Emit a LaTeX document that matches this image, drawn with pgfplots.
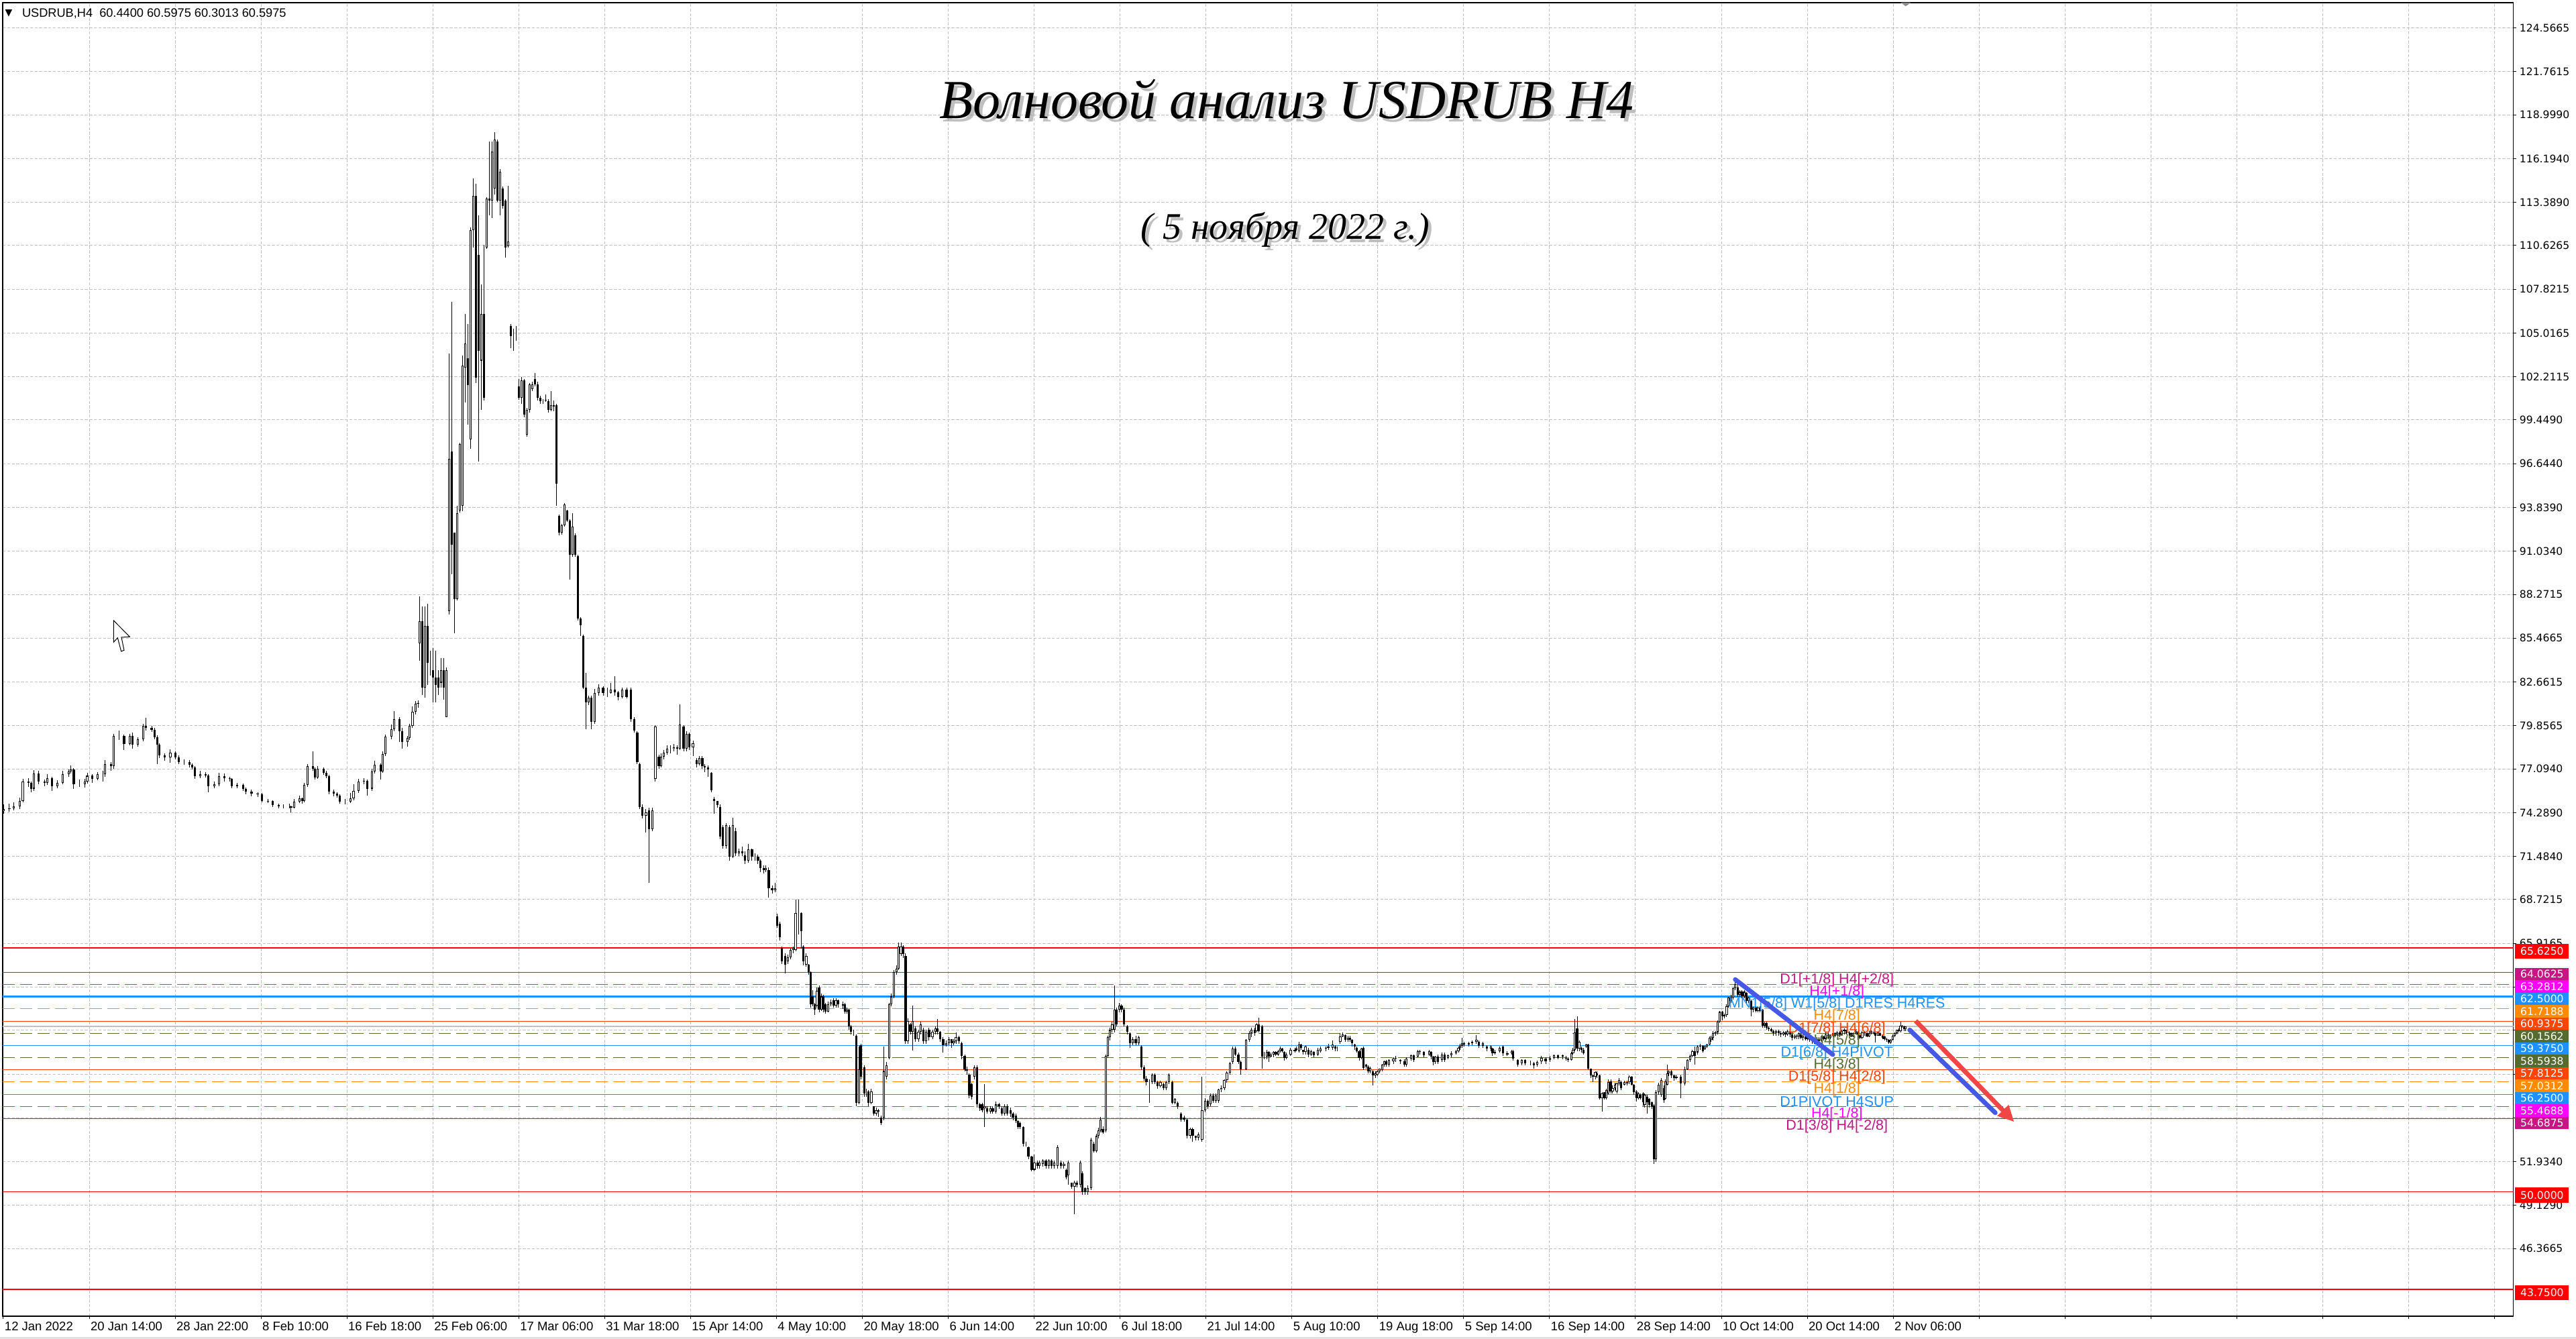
\documentclass[border=0pt]{standalone}
\usepackage{fontspec}
\usepackage{pgfplots}
\usepackage{pgfplotstable}
\pgfplotsset{compat=1.18}
\usetikzlibrary{arrows.meta}
\setmainfont{Liberation Sans}
\newfontfamily\tickfont{DejaVu Sans}
\newfontfamily\titlefont{Liberation Serif}
\definecolor{mmred}{HTML}{FF0000}
\definecolor{mmviolet}{HTML}{C71585}
\definecolor{mmmagenta}{HTML}{FF00FF}
\definecolor{mmblue}{HTML}{1E90FF}
\definecolor{mmorange}{HTML}{FF8C00}
\definecolor{mmorred}{HTML}{FF4500}
\definecolor{mmolive}{HTML}{556B2F}
\definecolor{gridgray}{HTML}{C0C0C0}
\definecolor{arrowblue}{HTML}{4558E6}
\definecolor{arrowred}{HTML}{F24646}
\pgfplotstableread{
x o h l c
2.4 74.40 74.80 74.20 74.50
5.7 74.50 74.85 74.35 74.55
8.4 74.55 74.95 74.45 74.70
12.0 74.70 75.25 74.50 75.05
13.9 75.05 76.45 74.95 76.27
17.5 76.27 76.50 75.95 76.19
19.0 76.19 76.30 75.60 75.83
20.6 75.83 77.00 75.70 76.79
23.5 76.79 76.95 76.10 76.27
27.0 76.27 76.40 76.00 76.19
28.8 76.19 76.75 76.05 76.51
31.7 76.51 76.60 75.70 75.98
34.9 75.98 76.35 75.85 76.19
38.1 76.19 76.95 76.10 76.76
41.8 76.76 77.05 76.60 76.91
43.2 76.91 77.30 76.80 77.05
44.9 77.05 77.15 75.80 76.12
48.5 76.12 76.40 75.95 76.12
51.8 76.12 76.45 75.90 76.27
53.1 76.27 76.85 76.15 76.65
56.2 76.65 76.75 76.20 76.45
59.5 76.45 76.90 76.35 76.76
62.8 76.76 76.95 76.30 76.76
64.0 76.76 77.65 76.60 77.41
67.7 77.41 77.55 76.95 77.27
69.2 77.27 79.35 77.10 79.20
72.3 79.20 79.55 78.95 79.20
75.5 79.20 79.30 78.30 78.70
79.0 78.70 79.35 78.60 79.20
80.5 79.20 79.40 78.40 78.63
83.8 78.63 79.10 78.50 78.98
87.3 78.98 80.00 78.85 79.84
88.7 79.84 80.37 79.55 79.70
92.3 79.70 79.85 79.45 79.60
94.2 79.60 79.70 79.00 79.13
95.6 79.13 79.25 77.40 78.63
96.9 78.63 78.75 77.80 77.98
100.2 77.98 78.10 77.60 77.84
103.7 77.84 78.35 77.50 78.12
106.9 78.12 78.20 77.70 77.84
108.8 77.84 77.95 77.40 77.55
112.0 77.55 77.70 77.35 77.55
115.2 77.55 77.65 77.20 77.34
117.0 77.34 77.45 77.05 77.17
118.5 77.17 77.25 76.45 76.62
121.9 76.62 76.95 76.50 76.76
125.2 76.76 76.90 76.55 76.69
126.7 76.69 76.75 75.60 75.98
130.3 75.98 76.30 75.85 76.12
133.4 76.12 76.85 76.00 76.62
136.7 76.62 76.80 76.30 76.48
139.8 76.48 76.60 76.30 76.45
141.2 76.45 76.50 75.85 75.98
144.4 75.98 76.20 75.85 76.05
148.0 76.05 76.15 75.70 75.83
149.5 75.83 75.90 75.45 75.62
153.1 75.62 75.75 75.35 75.50
156.8 75.50 75.60 75.30 75.48
159.5 75.48 75.55 74.95 75.05
163.2 75.05 75.15 74.90 75.02
165.9 75.02 75.10 74.65 74.76
169.6 74.76 74.85 74.55 74.69
172.6 74.69 74.80 74.55 74.69
176.0 74.69 74.85 74.55 74.69
177.2 74.69 74.75 74.30 74.62
179.0 74.62 75.15 74.55 74.98
182.3 74.98 75.40 74.90 75.19
184.1 75.19 75.25 74.85 75.02
185.3 75.02 76.20 74.95 76.05
187.2 76.05 77.40 75.95 77.27
190.4 77.27 78.20 76.95 77.12
191.7 77.12 77.20 76.40 76.55
193.2 76.55 77.25 76.45 77.09
196.9 77.09 77.20 76.70 76.84
198.7 76.84 76.95 76.50 76.62
200.3 76.62 76.70 75.45 75.62
203.3 75.62 75.75 75.35 75.50
205.1 75.50 75.60 75.25 75.40
206.9 75.40 75.45 74.85 74.98
210.0 74.98 75.15 74.80 74.98
213.3 74.98 75.55 74.90 75.19
215.2 75.19 76.10 75.10 75.69
218.3 75.69 76.45 75.55 76.27
221.6 76.27 76.50 76.10 76.34
223.4 76.34 76.40 75.40 75.83
226.5 75.83 77.10 75.70 76.91
228.0 76.91 77.60 76.80 77.34
231.6 77.34 77.45 76.40 76.94
232.9 76.94 78.20 76.85 78.05
234.7 78.05 79.30 77.90 79.15
238.1 79.15 79.95 79.00 79.63
239.9 79.63 80.80 79.50 80.27
243.0 80.27 80.40 78.80 79.50
244.8 79.50 79.70 78.40 78.80
248.0 78.80 79.20 78.50 79.06
249.3 79.06 80.00 78.95 79.84
251.1 79.84 81.10 79.70 80.77
252.9 80.77 81.45 80.60 81.27
254.4 81.27 81.50 81.00 81.30
255.4 85.14 88.13 84.03 86.55
257.0 86.55 87.50 81.83 82.30
258.6 82.30 87.50 81.67 86.24
260.2 86.24 87.66 82.46 83.88
261.8 83.88 84.66 83.09 83.88
263.5 83.40 84.82 81.36 82.93
265.1 82.93 84.66 81.36 82.46
266.7 82.93 83.40 81.83 82.30
268.4 82.62 84.19 82.30 83.40
270.0 83.40 84.19 81.51 82.30
271.8 80.41 83.60 80.41 83.40
273.3 87.19 103.72 87.00 96.95
274.9 97.42 107.03 89.55 91.44
276.5 92.22 92.22 85.77 87.97
278.2 87.97 93.95 87.90 93.48
279.8 93.64 98.00 93.50 97.89
281.4 93.95 103.56 93.60 102.94
283.1 102.78 106.24 100.57 104.35
284.7 103.41 105.61 99.15 101.67
286.3 98.21 111.80 97.60 111.60
288.0 111.60 114.90 110.49 113.80
289.6 113.80 114.59 101.83 102.15
291.2 110.02 112.54 96.79 103.88
292.9 103.25 108.13 100.10 106.24
294.5 106.24 110.65 100.70 100.88
296.1 110.49 113.70 110.40 113.64
297.8 113.64 117.27 112.54 113.49
299.4 113.49 117.27 112.38 116.64
301.0 114.27 117.90 113.90 117.43
302.7 117.27 117.43 113.40 113.49
304.3 113.49 115.50 112.54 115.37
305.9 114.27 114.40 113.00 113.17
307.6 113.49 113.60 109.86 110.49
309.2 110.59 114.43 110.49 110.90
311.0 105.45 105.61 104.04 104.82
312.6 104.82 105.30 103.88 104.82
314.2 104.67 105.45 104.51 104.67
315.7 101.61 102.05 100.73 100.88
317.4 100.88 102.20 100.50 101.99
319.0 101.99 102.05 99.62 99.78
320.6 98.52 100.20 98.37 100.10
322.3 100.10 101.80 99.90 101.73
323.9 101.42 101.90 101.30 101.73
325.5 102.05 102.46 101.60 101.73
327.2 101.73 101.90 100.70 100.88
328.8 100.88 101.00 100.50 100.66
330.4 100.66 100.80 100.50 100.66
332.1 100.70 101.10 100.60 100.73
333.7 100.66 100.80 99.90 100.10
335.3 100.10 101.30 100.00 100.41
337.0 100.41 100.70 100.00 100.30
338.6 100.41 100.50 93.95 95.37
340.2 93.32 93.40 92.06 92.22
341.9 92.22 92.80 92.10 92.69
343.5 92.69 94.11 92.60 94.05
345.1 93.64 93.70 92.90 93.01
346.8 93.01 93.10 89.23 90.81
348.4 90.81 93.48 90.70 92.60
350.0 92.06 92.20 90.70 90.81
351.7 90.71 90.80 86.60 86.71
353.3 86.71 86.80 85.61 86.30
354.9 85.61 85.70 82.20 82.30
356.6 82.30 83.25 79.62 81.36
358.2 81.36 81.80 81.20 81.67
359.8 81.67 81.80 79.62 80.10
361.9 80.10 82.20 80.00 81.95
364.5 81.95 82.50 81.80 82.30
367.1 82.30 82.40 81.80 81.95
369.7 81.95 82.30 81.70 81.95
371.8 81.95 82.60 81.90 82.18
374.1 82.18 83.02 81.80 82.00
376.2 82.00 82.10 81.50 81.71
378.8 81.71 82.30 81.60 82.18
381.4 82.18 82.30 81.60 81.71
384.0 82.18 82.30 80.10 80.28
386.1 80.28 80.40 79.40 79.56
387.9 79.44 79.50 77.40 77.53
389.2 77.41 77.50 74.50 74.67
391.1 74.67 74.80 73.90 74.08
393.2 74.08 74.50 73.00 74.31
395.0 74.43 74.60 69.78 73.24
397.1 73.24 74.60 73.10 74.43
398.9 76.46 79.90 76.30 79.80
401.0 77.89 78.00 77.10 77.29
402.3 77.29 78.10 77.20 77.89
404.1 77.89 78.30 77.70 78.13
406.2 78.13 78.60 78.00 78.37
408.3 78.37 78.60 78.10 78.37
410.1 78.37 78.70 78.20 78.49
412.2 78.49 78.60 78.00 78.37
414.0 78.37 81.23 78.30 79.92
416.1 79.80 79.90 78.20 78.37
417.9 78.37 79.50 78.20 79.32
419.7 79.32 79.40 78.30 78.49
421.8 78.49 78.90 77.90 78.73
423.9 77.65 77.80 77.20 77.41
425.7 77.41 77.90 77.30 77.77
427.5 77.77 77.90 77.10 77.29
429.1 77.29 77.40 76.90 77.18
430.9 77.18 77.30 76.60 77.06
433.0 76.82 76.90 75.60 75.74
434.8 75.15 75.30 74.20 75.03
436.6 75.03 75.00 74.60 74.79
438.2 74.67 74.80 72.60 72.76
440.0 73.36 73.50 72.00 72.17
442.1 72.17 73.60 72.00 73.48
443.9 73.36 73.50 71.21 71.45
446.0 71.45 73.96 71.40 73.48
447.8 73.12 73.30 71.50 71.69
449.9 71.69 72.00 71.50 71.81
451.7 71.81 72.10 71.50 71.69
453.6 71.57 71.80 71.00 71.21
455.6 71.21 72.30 71.10 71.93
457.7 71.93 72.00 71.20 71.45
459.6 71.45 71.70 71.20 71.45
461.4 71.45 71.60 71.00 71.21
462.9 71.21 71.30 70.50 70.74
464.8 70.74 70.90 70.40 70.62
466.1 70.62 70.90 70.50 70.74
467.9 70.62 70.80 68.83 69.43
470.0 69.43 69.60 69.10 69.31
471.8 69.31 69.80 69.20 69.43
473.1 67.64 67.80 66.90 67.04
474.7 67.16 67.30 66.10 66.32
476.0 65.61 65.70 64.60 64.77
477.8 65.13 65.30 64.00 64.53
479.6 64.77 65.20 64.60 65.01
481.2 65.01 65.60 64.90 65.49
483.0 65.49 65.73 65.30 65.61
484.3 65.49 68.71 65.40 67.87
486.1 67.87 68.71 66.50 67.87
487.7 67.87 67.90 65.60 66.68
489.0 65.73 65.80 64.50 64.77
490.8 64.53 65.30 64.40 65.13
492.1 64.53 64.60 63.90 64.06
493.4 64.06 64.10 61.80 62.03
494.7 62.51 62.90 61.90 62.03
496.0 62.03 62.10 61.32 61.67
497.3 61.91 63.10 61.80 62.87
498.6 63.10 63.20 61.50 61.67
499.9 61.67 62.70 61.60 62.51
501.2 62.51 62.60 61.50 61.67
502.5 62.03 62.10 61.40 61.55
504.1 61.55 62.20 61.50 62.03
505.6 62.03 62.30 61.90 62.15
507.2 62.27 62.40 61.80 61.91
508.8 61.91 62.40 61.80 62.27
510.3 62.27 62.30 61.80 62.03
512.9 62.03 62.20 61.70 61.91
514.2 62.03 62.10 61.40 61.55
515.5 61.55 61.80 61.40 61.67
516.8 61.67 61.70 60.40 60.60
518.1 60.60 60.70 60.10 60.24
519.7 60.24 60.40 60.00 60.24
521.3 60.00 60.10 55.50 55.71
522.8 55.71 59.29 55.60 57.86
523.9 59.41 59.50 57.20 57.38
526.0 57.98 58.10 56.10 56.31
527.3 56.31 56.60 56.10 56.31
528.6 56.43 56.50 55.50 55.71
530.4 55.71 56.60 55.60 56.43
531.7 55.47 55.50 54.90 55.00
533.3 55.00 55.40 54.90 55.24
534.8 55.24 55.30 54.80 55.12
536.4 54.76 54.90 54.28 54.40
537.9 54.76 59.29 54.60 57.74
539.5 57.38 58.30 57.20 58.10
541.1 58.57 62.10 58.50 62.03
542.6 62.03 62.70 61.90 62.51
544.2 62.51 64.20 62.40 64.06
545.7 64.06 64.50 63.90 64.30
546.8 64.30 65.97 64.20 65.73
548.4 65.25 65.97 65.10 65.73
549.9 65.73 65.80 65.00 65.25
551.2 65.13 65.30 59.50 59.65
552.5 59.65 61.10 59.50 60.96
554.1 60.72 60.80 60.10 60.24
555.4 60.24 61.91 59.05 60.96
557.2 60.48 60.60 59.60 59.77
559.0 59.77 60.40 59.60 60.24
560.3 60.24 60.90 60.10 60.72
561.9 60.36 60.50 59.50 59.65
563.7 59.65 60.40 59.50 60.24
565.5 60.36 60.50 59.70 59.89
567.6 59.89 60.40 59.80 60.24
569.4 60.24 60.60 60.10 60.48
570.7 60.48 61.08 60.10 60.24
572.3 60.24 60.30 59.60 59.77
574.1 59.77 59.90 58.90 59.41
575.9 59.41 59.70 59.30 59.53
577.5 59.53 59.90 59.40 59.77
579.3 59.77 59.80 59.20 59.53
580.6 59.53 59.80 59.40 59.65
581.9 59.65 60.20 59.50 59.89
583.7 59.89 60.00 59.50 59.65
585.3 59.53 59.60 58.50 58.69
587.2 58.69 58.80 57.70 57.86
588.4 57.86 58.00 57.50 57.74
590.0 57.50 57.60 56.00 56.19
591.6 56.90 57.00 55.90 56.07
593.1 57.38 58.10 57.20 57.98
594.7 57.98 58.10 55.40 55.59
596.3 55.59 55.70 55.20 55.35
597.8 55.59 55.70 55.10 55.24
599.4 55.35 56.90 54.16 55.47
601.0 55.35 55.50 55.00 55.12
602.8 55.12 55.50 55.00 55.35
604.3 55.35 55.50 55.00 55.12
606.1 55.12 55.80 55.00 55.59
608.0 55.59 55.70 55.30 55.47
609.8 55.35 55.50 54.90 55.00
611.4 55.00 55.60 54.90 55.47
613.2 55.47 55.60 54.90 55.00
615.0 55.24 55.40 54.80 55.00
616.6 55.00 55.10 54.60 54.76
618.4 54.88 55.00 54.40 54.52
619.7 54.52 54.60 54.00 54.16
621.0 54.40 54.50 54.00 54.16
622.8 54.16 54.20 52.90 53.09
624.4 53.09 53.20 52.90 53.09
626.0 52.85 52.90 52.10 52.25
628.0 52.25 52.30 51.30 51.42
629.6 51.42 52.37 51.30 51.89
631.4 51.89 52.00 51.50 51.66
632.7 51.66 52.00 51.50 51.89
634.8 51.78 52.10 51.60 52.01
636.6 52.01 52.10 51.50 51.66
638.4 51.66 52.10 51.50 52.01
640.0 52.01 52.10 51.50 51.66
641.8 51.66 52.00 51.50 51.89
643.7 51.66 52.97 51.50 52.85
645.7 51.89 52.00 51.50 51.66
647.6 51.66 51.90 51.50 51.78
649.1 51.42 51.50 50.80 50.94
650.4 51.06 52.00 50.46 51.89
652.2 50.58 50.60 50.20 50.34
654.1 50.34 50.70 48.55 50.58
655.6 50.58 50.70 50.30 50.46
657.5 50.46 52.00 50.30 51.89
658.8 51.18 51.30 49.80 49.99
660.6 50.23 50.30 49.80 49.99
662.2 49.99 50.40 49.80 50.23
664.0 50.23 53.45 50.10 53.33
665.8 53.09 53.20 52.50 52.61
667.4 52.61 53.70 52.50 53.57
668.7 53.57 54.10 53.40 53.92
670.0 53.92 54.80 53.80 54.64
671.3 54.04 54.20 53.70 53.80
673.1 53.92 58.80 53.80 58.69
674.4 58.69 60.00 58.60 59.89
675.7 59.89 60.50 59.70 60.36
677.0 60.36 60.90 60.20 60.72
678.3 60.36 63.22 60.20 61.67
679.6 61.67 61.80 60.60 60.72
681.4 61.67 62.10 61.50 61.91
682.7 61.91 62.00 61.50 61.67
684.3 61.67 61.80 60.60 60.72
686.1 60.60 60.70 60.10 60.24
687.9 60.12 60.20 59.20 59.53
689.5 59.53 59.90 59.40 59.77
691.3 59.77 60.00 59.40 59.53
693.1 59.53 60.00 59.40 59.89
694.7 59.29 59.40 57.80 57.98
696.5 57.98 58.10 57.10 57.26
697.8 57.26 57.40 56.80 57.02
699.6 57.02 57.20 55.71 57.02
701.2 57.02 57.60 56.90 57.50
703.0 57.50 57.60 56.90 57.02
704.6 57.02 57.10 56.60 56.78
706.4 56.78 57.10 56.70 57.02
708.2 56.90 57.00 56.50 56.66
709.8 56.66 57.10 56.50 57.02
711.6 57.02 57.60 56.90 57.50
713.4 57.02 57.10 55.60 55.71
715.3 55.71 56.00 55.60 55.95
716.8 55.71 55.80 55.30 55.47
718.7 55.00 55.10 54.50 54.64
720.7 54.76 54.90 54.50 54.64
722.6 54.64 54.70 53.40 53.57
724.4 53.57 54.10 53.40 54.04
726.0 54.04 54.10 53.20 53.57
727.8 53.57 53.60 53.30 53.45
729.6 53.45 53.80 53.30 53.68
731.7 53.33 57.38 53.20 55.24
733.5 55.24 56.00 55.10 55.83
735.1 55.83 55.90 55.30 55.47
736.9 55.59 56.30 55.50 56.19
738.4 56.19 56.30 55.70 55.83
740.0 55.83 56.30 55.70 56.19
741.6 55.83 56.60 55.70 56.55
743.4 56.55 56.80 56.40 56.66
745.2 56.66 57.20 56.50 57.14
746.8 57.14 57.70 57.00 57.62
748.6 57.62 58.30 57.50 58.22
750.4 58.33 59.30 58.20 59.17
752.0 59.17 59.30 58.70 58.81
753.8 58.81 58.90 58.20 58.33
755.1 58.33 58.40 57.50 57.86
758.5 57.86 59.80 57.80 59.73
760.6 59.73 60.30 59.60 60.16
761.6 60.16 60.50 59.90 60.38
763.7 60.38 60.50 60.00 60.16
764.8 60.31 60.80 60.20 60.73
766.2 60.73 61.16 60.20 60.31
768.3 60.59 60.70 57.87 58.66
769.6 58.66 58.95 58.50 58.66
771.0 58.66 59.10 58.50 58.95
772.5 58.95 59.00 58.30 58.66
773.7 58.66 58.90 58.60 58.80
775.2 58.80 59.00 58.60 58.95
776.6 58.95 59.00 58.70 58.80
777.9 58.80 59.10 58.70 59.02
779.4 59.02 59.30 58.90 59.16
780.4 59.16 59.20 58.90 59.02
781.6 58.95 59.00 58.40 58.59
782.9 58.59 58.90 58.50 58.80
785.6 58.80 59.20 58.70 59.09
788.1 59.02 59.20 58.90 59.09
789.1 59.09 59.30 59.00 59.16
790.8 59.02 59.60 58.90 59.45
792.1 59.45 59.50 59.10 59.23
793.3 59.09 59.10 58.80 58.95
794.6 58.95 59.40 58.80 59.30
796.6 59.09 59.20 58.60 58.80
798.1 58.80 59.10 58.70 59.02
799.6 58.95 59.00 58.60 58.73
802.3 58.80 59.20 58.70 59.09
803.7 59.02 59.30 58.90 59.16
806.9 59.16 59.30 59.00 59.23
808.5 59.23 59.50 59.10 59.30
811.2 59.23 59.70 59.10 59.45
812.7 59.30 59.40 59.00 59.16
814.1 59.16 59.30 59.00 59.16
815.8 59.59 60.16 59.50 59.95
817.3 59.95 60.20 59.90 60.09
818.9 60.02 60.10 59.60 59.73
820.4 59.73 60.00 59.60 59.88
821.6 59.88 60.00 59.60 59.73
823.1 59.73 59.80 59.30 59.52
824.6 59.45 59.50 59.10 59.30
825.8 59.23 59.30 58.90 59.02
827.3 59.02 59.10 58.40 58.59
828.7 58.59 59.20 58.50 59.16
830.0 59.23 59.30 57.80 57.94
831.6 58.16 58.20 57.90 58.02
832.9 58.02 58.10 57.60 57.73
834.1 57.73 58.00 57.60 57.94
835.6 57.73 57.80 56.80 57.44
837.1 57.44 57.70 57.30 57.59
838.3 57.51 57.80 57.40 57.73
839.8 57.73 57.90 57.60 57.87
841.2 57.80 58.20 57.70 58.16
842.5 58.16 58.40 58.00 58.37
843.9 58.37 58.45 58.00 58.16
845.4 58.16 58.50 58.00 58.44
848.1 58.37 58.60 58.20 58.52
849.6 58.52 58.70 58.30 58.59
852.3 58.44 58.50 58.20 58.37
854.8 58.37 58.50 58.00 58.16
856.2 58.16 58.60 58.00 58.52
858.9 58.52 58.80 58.40 58.73
860.4 58.73 58.80 58.30 58.44
863.1 58.66 59.10 58.60 59.02
864.1 59.02 59.10 58.80 58.95
866.8 58.95 59.00 58.60 58.73
870.0 58.80 59.10 58.70 59.02
871.2 58.95 59.00 58.50 58.66
872.5 58.66 58.70 58.10 58.30
873.7 58.30 58.70 58.20 58.66
875.2 58.66 58.80 58.20 58.30
877.7 58.44 58.90 58.30 58.80
879.3 58.80 58.90 58.30 58.44
881.4 58.59 58.80 58.50 58.73
883.5 58.73 59.00 58.60 58.87
886.2 58.87 59.10 58.80 59.02
887.7 59.02 59.30 58.90 59.23
888.7 59.23 59.50 59.10 59.37
889.8 59.37 59.88 59.20 59.52
891.2 59.52 59.60 59.30 59.45
893.9 59.45 59.60 59.30 59.52
896.2 59.52 59.70 59.40 59.59
898.7 59.59 60.05 59.50 59.73
900.2 59.59 59.70 59.20 59.37
902.5 59.37 59.60 59.20 59.52
905.0 59.30 59.40 59.00 59.16
907.5 59.16 59.40 59.00 59.30
908.5 59.16 59.20 58.70 58.87
910.0 58.87 59.10 58.80 58.95
912.7 59.02 59.30 58.90 59.23
915.0 59.30 59.40 58.70 58.87
917.5 58.87 59.00 58.70 58.80
920.0 58.87 59.10 58.80 59.02
921.0 59.02 59.10 58.40 58.52
923.7 58.44 58.50 58.00 58.16
926.2 58.23 58.50 58.10 58.44
928.3 58.44 58.50 58.10 58.23
931.4 58.23 58.40 58.10 58.23
933.5 58.23 58.30 57.90 58.09
935.8 58.16 58.40 58.00 58.30
938.3 58.37 58.70 58.20 58.59
940.8 58.52 58.60 58.20 58.37
943.5 58.44 58.70 58.30 58.59
946.0 58.59 58.80 58.50 58.73
948.3 58.73 58.80 58.50 58.59
951.2 58.66 58.80 58.50 58.73
953.3 58.59 58.70 58.40 58.52
954.3 58.52 58.60 58.30 58.44
956.4 58.44 58.95 58.40 58.87
957.5 58.87 59.20 58.80 59.09
958.7 59.09 61.09 59.00 60.23
960.0 60.45 61.23 59.00 59.16
961.2 59.16 59.70 59.00 59.59
962.7 59.23 59.30 58.90 59.09
963.7 59.09 59.20 58.80 58.87
965.4 59.30 59.50 59.20 59.45
966.8 59.45 59.50 57.80 57.87
968.3 57.87 57.90 57.30 57.44
969.5 57.44 57.50 57.01 57.37
971.0 57.37 57.70 57.20 57.66
972.0 57.59 57.70 57.30 57.44
973.7 57.44 57.50 55.90 56.01
975.1 56.01 56.40 55.15 56.30
976.6 56.37 56.40 55.90 56.01
977.8 56.01 56.60 55.90 56.51
978.9 56.30 57.20 56.20 57.01
980.4 57.08 57.20 56.30 56.44
981.6 56.44 56.80 56.30 56.66
983.1 56.66 57.00 56.50 56.87
984.1 56.44 57.00 56.30 56.94
985.6 56.94 57.30 56.80 57.16
986.6 57.01 57.10 56.50 56.66
988.7 56.87 57.10 56.80 57.01
990.4 57.01 57.10 56.80 56.94
991.8 57.01 57.45 56.90 57.37
993.3 57.37 57.40 56.80 56.87
994.5 56.87 56.90 56.20 56.37
996.0 56.44 56.50 55.80 56.01
997.4 56.01 56.40 55.90 56.30
998.7 56.23 56.30 55.90 56.01
1000.2 56.30 56.40 55.50 55.73
1001.2 55.58 56.30 55.40 56.23
1002.6 56.08 56.20 55.00 55.73
1003.9 55.94 56.00 55.40 55.58
1005.4 55.73 55.80 55.30 55.44
1006.8 55.51 55.60 51.79 52.08
1008.1 52.08 56.50 51.90 56.37
1009.5 56.37 57.00 56.20 56.87
1011.2 56.23 57.30 56.10 57.16
1012.7 56.66 56.80 55.70 55.87
1013.7 55.94 57.20 55.90 57.08
1014.8 56.87 58.16 56.80 57.59
1015.8 57.59 57.80 57.40 57.73
1017.4 57.73 57.80 57.30 57.44
1018.9 57.44 57.50 57.10 57.30
1020.4 57.30 57.50 57.20 57.37
1022.9 57.37 57.50 55.99 56.93
1025.4 56.93 58.00 56.80 57.86
1027.1 57.86 58.50 57.80 58.43
1028.7 58.43 58.80 58.30 58.72
1030.2 58.72 59.10 58.60 59.01
1031.6 59.01 59.30 58.15 58.72
1033.3 58.94 59.40 58.80 59.30
1035.0 59.30 59.50 59.10 59.37
1036.4 59.37 59.40 58.90 59.01
1037.9 59.15 59.40 59.10 59.30
1039.1 59.30 59.50 59.20 59.44
1040.6 59.44 59.95 59.40 59.87
1041.6 59.73 60.00 59.60 59.87
1042.7 59.87 60.30 59.70 60.16
1044.1 60.16 60.30 60.00 60.23
1045.4 60.23 61.00 60.10 60.88
1046.8 60.88 61.60 60.80 61.52
1048.3 61.52 61.60 61.00 61.23
1049.5 61.23 61.40 61.10 61.31
1051.0 61.31 62.00 61.20 61.88
1052.0 61.88 62.50 61.80 62.45
1053.5 62.45 62.60 62.10 62.24
1054.8 62.45 63.10 62.30 63.03
1056.2 63.03 63.45 62.90 63.32
1057.7 63.10 63.30 62.50 62.60
1058.9 62.60 62.90 62.50 62.81
1060.4 62.81 62.90 62.40 62.53
1061.8 62.53 62.90 62.40 62.81
1063.1 62.74 62.80 62.10 62.24
1064.5 62.24 62.50 62.10 62.45
1066.0 62.24 62.30 61.23 61.66
1067.3 61.66 61.90 61.50 61.81
1068.7 61.81 61.90 61.50 61.59
1070.2 61.59 61.90 61.50 61.81
1071.4 61.81 61.90 61.50 61.59
1072.9 61.66 61.70 60.50 60.66
1074.1 60.66 60.90 60.50 60.80
1075.4 60.80 60.90 60.40 60.52
1076.6 60.52 60.60 60.30 60.44
1078.1 60.44 60.50 60.20 60.30
1079.5 60.30 60.40 60.00 60.16
1081.2 60.16 60.40 60.00 60.30
1082.7 60.30 60.40 60.00 60.16
1083.9 60.16 60.30 59.90 60.09
1085.4 60.09 60.30 60.00 60.23
1086.8 60.23 60.30 59.90 60.09
1088.1 60.09 60.40 60.00 60.30
1089.5 60.30 60.40 59.90 60.09
1091.0 60.09 60.20 59.70 59.87
1092.5 59.87 60.10 59.80 60.01
1093.7 60.01 60.10 59.80 59.94
1095.0 59.94 60.20 59.80 60.16
1096.2 60.09 60.20 59.80 59.87
1097.5 59.87 60.10 59.70 60.01
1098.9 59.94 60.00 59.70 59.80
1100.4 59.80 60.10 59.70 60.01
1101.6 59.94 60.00 59.60 59.73
1103.1 59.73 59.80 59.50 59.65
1104.5 59.65 59.80 59.50 59.58
1105.8 59.58 59.90 59.50 59.80
1107.2 59.80 59.90 59.50 59.65
1108.7 59.65 60.00 59.60 59.94
1109.9 59.94 60.00 59.70 59.80
1111.4 59.80 60.20 59.70 60.09
1112.9 60.09 60.20 59.80 59.87
1114.1 59.87 60.10 59.80 60.01
1115.6 60.01 60.20 59.90 60.16
1117.0 60.16 60.20 59.90 60.01
1118.3 60.09 60.30 60.00 60.23
1119.7 60.23 60.30 59.90 60.01
1121.2 60.09 60.40 60.00 60.30
1122.5 60.30 60.45 60.10 60.37
1123.9 60.37 60.40 60.10 60.16
1125.4 60.16 60.30 60.00 60.23
1126.6 60.16 60.20 59.90 59.94
1128.1 59.94 60.20 59.90 60.16
1129.5 60.16 60.35 60.10 60.30
1130.8 60.23 60.30 59.73 60.09
1132.2 60.09 60.10 59.80 59.87
1133.5 59.87 60.30 59.80 60.23
1135.0 60.23 60.30 60.00 60.16
1136.4 60.16 60.20 59.90 59.94
1137.9 59.94 60.30 59.90 60.16
1139.1 60.16 60.35 60.10 60.30
1140.6 60.23 60.30 60.10 60.16
1141.6 60.16 60.20 59.58 60.01
1143.1 60.01 60.30 60.00 60.23
1144.3 60.16 60.20 60.00 60.01
1145.8 60.01 60.10 59.80 59.87
1147.0 59.94 60.00 59.70 59.80
1148.3 59.80 59.85 59.60 59.73
1149.5 59.73 59.80 59.50 59.58
1150.8 59.58 59.80 59.50 59.73
1152.0 59.73 60.10 59.70 60.01
1153.3 60.01 60.20 59.90 60.16
1154.5 60.16 60.40 60.10 60.37
1155.8 60.37 60.45 60.20 60.30
1156.8 60.30 60.88 60.20 60.66
1157.9 60.66 60.70 60.50 60.59
1158.9 60.59 60.66 60.30 60.44
1159.9 60.44 60.60 60.30 60.60
}\candles
\begin{document}
\begin{tikzpicture}[x=1pt,y=1pt]
\useasboundingbox (0,0) rectangle (1920,998);
\fill[white] (0,0) rectangle (1920,998);
\fill[black!12] (0,0) rectangle (1920,1.5);
\begin{axis}[
  at={(2pt,17pt)}, anchor=south west, scale only axis,
  width=1871.25pt, height=979pt,
  xmin=1.633, xmax=1529.8, ymin=42.03, ymax=126.18,
  axis line style={black, line width=0.8pt},
  clip mode=individual,
  xtick={2.04,54.33,106.61,158.90,211.19,263.48,315.76,368.05,420.34,472.62,524.91,577.20,629.48,681.77,734.06,786.35,838.63,890.92,943.21,995.49,1047.78,1100.07,1152.35,1204.64,1256.93,1309.22,1361.50,1413.79,1466.08,1518.36},
  xticklabels={12 Jan 2022,20 Jan 14:00,28 Jan 22:00,8 Feb 10:00,16 Feb 18:00,25 Feb 06:00,17 Mar 06:00,31 Mar 18:00,15 Apr 14:00,4 May 10:00,20 May 18:00,6 Jun 14:00,22 Jun 10:00,6 Jul 18:00,21 Jul 14:00,5 Aug 10:00,19 Aug 18:00,5 Sep 14:00,16 Sep 14:00,28 Sep 14:00,10 Oct 14:00,20 Oct 14:00,2 Nov 06:00,{},{},{},{},{},{},{}},
  minor x tick num=1,
  ytick={124.5665,121.7615,118.9990,116.1940,113.3890,110.6265,107.8215,105.0165,102.2115,99.4490,96.6440,93.8390,91.0340,88.2715,85.4665,82.6615,79.8565,77.0940,74.2890,71.4840,68.7215,65.9165,63.1115,60.3490,57.5440,54.7390,51.9340,49.1290,46.3665},
  yticklabels={124.5665,121.7615,118.9990,116.1940,113.3890,110.6265,107.8215,105.0165,102.2115,99.4490,96.6440,93.8390,91.0340,88.2715,85.4665,82.6615,79.8565,77.0940,74.2890,71.4840,68.7215,65.9165,63.1115,60.3490,57.5440,54.7390,51.9340,49.1290,46.3665},
  grid=both,
  major grid style={gridgray, dash pattern=on 2.2pt off 1.2pt, line width=0.5pt},
  minor grid style={gridgray, dash pattern=on 2.2pt off 1.2pt, line width=0.5pt},
  xtick pos=left, ytick pos=right,
  xticklabel pos=left, yticklabel pos=right,
  tick align=outside, major tick length=2pt, minor tick length=0pt,
  tick style={black, line width=0.5pt},
  xticklabel style={font=\fontsize{9.25}{10}\selectfont, anchor=north west, inner sep=0pt, xshift=0.8pt, yshift=-2pt},
  yticklabel style={font=\tickfont\fontsize{7.8}{9}\selectfont, anchor=west, inner sep=0pt, xshift=2.5pt},
]
% level lines
\addplot[mmred, line width=0.55pt, forget plot] coordinates {(1.633,65.625) (1529.8,65.625)};
\addplot[mmviolet, line width=0.75pt, forget plot] coordinates {(1.633,64.0625) (1529.8,64.0625)};
\addplot[mmmagenta, line width=0.55pt, dash pattern=on 9pt off 4pt, forget plot] coordinates {(1.633,63.2812) (1529.8,63.2812)};
\addplot[mmblue, line width=1.3pt, forget plot] coordinates {(1.633,62.5) (1529.8,62.5)};
\addplot[mmorange, line width=0.55pt, dash pattern=on 9pt off 4pt, forget plot] coordinates {(1.633,61.7188) (1529.8,61.7188)};
\addplot[mmorred, line width=0.55pt, forget plot] coordinates {(1.633,60.9375) (1529.8,60.9375)};
\addplot[gridgray, line width=0.55pt, forget plot] coordinates {(1.633,60.5975) (1529.8,60.5975)};
\addplot[mmolive, line width=0.55pt, dash pattern=on 9pt off 4pt, forget plot] coordinates {(1.633,60.1562) (1529.8,60.1562)};
\addplot[mmblue, line width=0.55pt, forget plot] coordinates {(1.633,59.375) (1529.8,59.375)};
\addplot[mmolive, line width=0.55pt, dash pattern=on 9pt off 4pt, forget plot] coordinates {(1.633,58.5938) (1529.8,58.5938)};
\addplot[mmorred, line width=0.55pt, forget plot] coordinates {(1.633,57.8125) (1529.8,57.8125)};
\addplot[mmorange, line width=0.55pt, dash pattern=on 9pt off 4pt, forget plot] coordinates {(1.633,57.0312) (1529.8,57.0312)};
\addplot[mmblue, line width=0.55pt, forget plot] coordinates {(1.633,56.25) (1529.8,56.25)};
\addplot[mmmagenta, line width=0.55pt, dash pattern=on 9pt off 4pt, forget plot] coordinates {(1.633,55.4688) (1529.8,55.4688)};
\addplot[mmviolet, line width=0.75pt, forget plot] coordinates {(1.633,54.6875) (1529.8,54.6875)};
\addplot[mmred, line width=0.55pt, forget plot] coordinates {(1.633,50.0) (1529.8,50.0)};
\addplot[mmred, line width=0.55pt, forget plot] coordinates {(1.633,43.75) (1529.8,43.75)};
% candles: wicks, bodies, hollow interiors of rising candles
\addplot[black, line width=0.5pt, forget plot, quiver={u=0, v={\thisrow{h}-\thisrow{l}}}] table[x=x, y=l] {\candles};
\addplot[black, line width=1.6pt, forget plot, quiver={u=0, v={abs(\thisrow{c}-\thisrow{o})}}] table[x=x, y expr={min(\thisrow{o},\thisrow{c})}] {\candles};
\addplot[white, line width=0.6pt, forget plot, quiver={u=0, v={max(\thisrow{c}-\thisrow{o}-0.09,0)}}] table[x=x, y expr={\thisrow{o}+0.045}] {\candles};
% level labels
\begin{scope}[every node/.style={font=\fontsize{10.75}{12}\selectfont, inner sep=0pt, anchor=center, yshift=-5.7pt}]
\node[text=mmviolet] at (axis cs:1118.1,64.0625) {D1[+1/8] H4[+2/8]};
\node[text=mmmagenta] at (axis cs:1118.1,63.2812) {H4[+1/8]};
\node[text=mmblue] at (axis cs:1118.1,62.5) {MN1[5/8] W1[5/8] D1RES H4RES};
\node[text=mmorange] at (axis cs:1118.1,61.7188) {H4[7/8]};
\node[text=mmorred] at (axis cs:1118.1,60.9375) {D1[7/8] H4[6/8]};
\node[text=mmolive] at (axis cs:1118.1,60.1562) {H4[5/8]};
\node[text=mmblue] at (axis cs:1118.1,59.375) {D1[6/8] H4PIVOT};
\node[text=mmolive] at (axis cs:1118.1,58.5938) {H4[3/8]};
\node[text=mmorred] at (axis cs:1118.1,57.8125) {D1[5/8] H4[2/8]};
\node[text=mmorange] at (axis cs:1118.1,57.0312) {H4[1/8]};
\node[text=mmblue] at (axis cs:1118.1,56.25) {D1PIVOT H4SUP};
\node[text=mmmagenta] at (axis cs:1118.1,55.4688) {H4[-1/8]};
\node[text=mmviolet] at (axis cs:1118.1,54.6875) {D1[3/8] H4[-2/8]};
\end{scope}
% trend lines and arrow
\addplot[arrowblue, line width=3.4pt, line cap=round, forget plot] coordinates {(1056.2,63.6) (1115.6,58.79)};
\addplot[arrowblue, line width=3.4pt, line cap=round, forget plot] coordinates {(1162.4,60.37) (1214.5,55.06)};
\addplot[arrowred, line width=3.4pt, forget plot, -{Triangle[length=12pt,width=11pt]}] coordinates {(1166,60.95) (1226,54.48)};
\fill[black!45] (axis cs:1157,126.18) -- (axis cs:1163,126.18) -- (axis cs:1160,125.95) -- cycle;
% anchors for the price boxes
\coordinate (P1) at (axis cs:1529.8,65.625);
\coordinate (P2) at (axis cs:1529.8,64.0625);
\coordinate (P3) at (axis cs:1529.8,63.2812);
\coordinate (P4) at (axis cs:1529.8,62.5);
\coordinate (P5) at (axis cs:1529.8,61.7188);
\coordinate (P6) at (axis cs:1529.8,60.9375);
\coordinate (P7) at (axis cs:1529.8,60.1562);
\coordinate (P8) at (axis cs:1529.8,59.375);
\coordinate (P9) at (axis cs:1529.8,58.5938);
\coordinate (P10) at (axis cs:1529.8,57.8125);
\coordinate (P11) at (axis cs:1529.8,57.0312);
\coordinate (P12) at (axis cs:1529.8,56.25);
\coordinate (P13) at (axis cs:1529.8,55.4688);
\coordinate (P14) at (axis cs:1529.8,54.6875);
\coordinate (P15) at (axis cs:1529.8,50.0);
\coordinate (P16) at (axis cs:1529.8,43.75);
\end{axis}
% price boxes
\begin{scope}[every node/.style={anchor=west, text=white, inner sep=0pt, minimum width=40pt, font=\tickfont\fontsize{7.8}{9}\selectfont}]
\node[fill=mmred, minimum height=11.2pt] at ([xshift=1.25pt,yshift=-2.5pt]P1) {65.6250};
\node[fill=mmviolet, minimum height=9.3pt] at ([xshift=1.25pt,yshift=-1.3pt]P2) {64.0625};
\node[fill=mmmagenta, minimum height=9.3pt] at ([xshift=1.25pt,yshift=-1.46pt]P3) {63.2812};
\node[fill=mmblue, minimum height=9.3pt] at ([xshift=1.25pt,yshift=-1.62pt]P4) {62.5000};
\node[fill=mmorange, minimum height=9.3pt] at ([xshift=1.25pt,yshift=-1.77pt]P5) {61.7188};
\node[fill=mmorred, minimum height=9.3pt] at ([xshift=1.25pt,yshift=-1.93pt]P6) {60.9375};
\node[fill=mmolive, minimum height=9.3pt] at ([xshift=1.25pt,yshift=-2.09pt]P7) {60.1562};
\node[fill=mmblue, minimum height=9.3pt] at ([xshift=1.25pt,yshift=-2.25pt]P8) {59.3750};
\node[fill=mmolive, minimum height=9.3pt] at ([xshift=1.25pt,yshift=-2.41pt]P9) {58.5938};
\node[fill=mmorred, minimum height=9.3pt] at ([xshift=1.25pt,yshift=-2.56pt]P10) {57.8125};
\node[fill=mmorange, minimum height=9.3pt] at ([xshift=1.25pt,yshift=-2.72pt]P11) {57.0312};
\node[fill=mmblue, minimum height=9.3pt] at ([xshift=1.25pt,yshift=-2.88pt]P12) {56.2500};
\node[fill=mmmagenta, minimum height=9.3pt] at ([xshift=1.25pt,yshift=-3.04pt]P13) {55.4688};
\node[fill=mmviolet, minimum height=9.3pt] at ([xshift=1.25pt,yshift=-3.2pt]P14) {54.6875};
\node[fill=mmred, minimum height=11.2pt] at ([xshift=1.25pt,yshift=-2.5pt]P15) {50.0000};
\node[fill=mmred, minimum height=11.2pt] at ([xshift=1.25pt,yshift=-2.5pt]P16) {43.7500};
\end{scope}
% mouse cursor
\filldraw[fill=white, draw=black, line width=0.5pt, line join=miter] (84.67,535.5) -- (84.67,519.35) -- (87.67,522.65) -- (90.33,512.5) -- (92.5,513.35) -- (90.5,523) -- (96.67,523.35) -- cycle;
% header
\node[anchor=base west, inner sep=0pt, font=\tickfont\fontsize{7}{8}\selectfont] at (3.6pt,986pt) {▼};
\node[anchor=base west, inner sep=0pt, font=\fontsize{9.1}{10}\selectfont] at (16.3pt,985pt) {USDRUB,H4\ \ 60.4400 60.5975 60.3013 60.5975};
% title with shadow
\node[anchor=base, inner sep=0pt, text=black!50, opacity=0.5, font=\titlefont\itshape\fontsize{41}{48}\selectfont] at (961.5pt,907pt) {Волновой анализ USDRUB H4};
\node[anchor=base, inner sep=0pt, text=black, font=\titlefont\itshape\fontsize{41}{48}\selectfont] at (959pt,909.5pt) {Волновой анализ USDRUB H4};
\node[anchor=base, inner sep=0pt, text=black!50, opacity=0.5, font=\titlefont\itshape\fontsize{28}{34}\selectfont] at (960.5pt,817pt) {( 5 ноября 2022 г.)};
\node[anchor=base, inner sep=0pt, text=black, font=\titlefont\itshape\fontsize{28}{34}\selectfont] at (958pt,819.5pt) {( 5 ноября 2022 г.)};
\end{tikzpicture}
\end{document}
